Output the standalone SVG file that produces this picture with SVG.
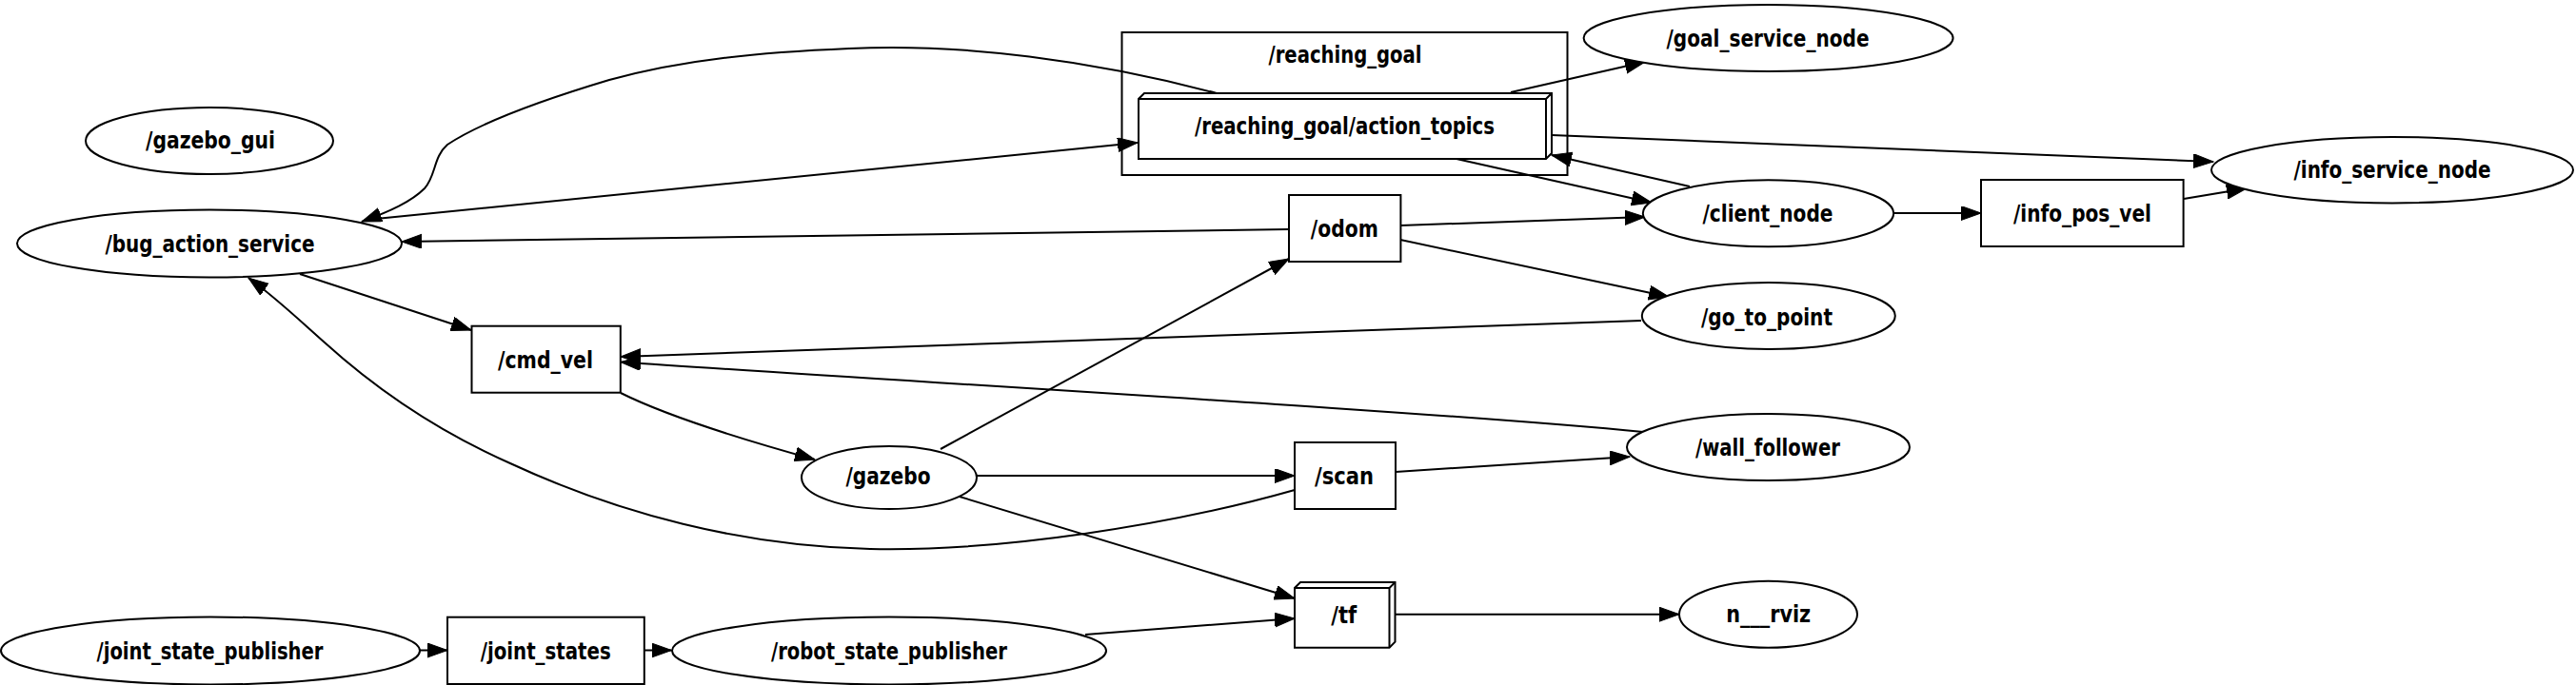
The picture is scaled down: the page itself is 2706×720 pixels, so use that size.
<svg xmlns="http://www.w3.org/2000/svg" width="2706" height="720" viewBox="0 0 2706 720">
<style>
.n{fill:#fff;stroke:#000;stroke-width:2}
.b{fill:none;stroke:#000;stroke-width:2}
.t{font-family:"DejaVu Sans","Liberation Sans",sans-serif;font-weight:bold;font-size:24px;text-anchor:middle;fill:#000}
.e{fill:none;stroke:#000;stroke-width:2;marker-end:url(#ah)}
</style>
<defs>
<marker id="ah" markerWidth="23" markerHeight="16" refX="21" refY="7.5" orient="auto" markerUnits="userSpaceOnUse">
<path d="M0,0 L21,7.5 L0,15 Z" fill="#000" stroke="#000" stroke-width="1"/>
</marker>
</defs>
<rect width="2706" height="720" fill="#fff"/>

<g id="cluster_reaching_goal">
<rect class="b" x="1178.5" y="34" width="468" height="150"/>
<text class="t" x="1413" y="66" textLength="161" lengthAdjust="spacingAndGlyphs">/reaching_goal</text>
</g>

<g id="connectors">
<path class="e" d="M1278,98 C1150,64 1010,45 892,51 C800,55 720,62 640,84 C560,108 500,132 470,152 C455,165 458,185 446,198 C432,212 410,222 380,233"/>
<path class="e" d="M395,230 L1195,150"/>
<path class="e" d="M1354,241 L422,254"/>
<path class="e" d="M315,288 L495,347"/>
<path class="e" d="M1360,515 C1230,552 1050,580 914,577 C780,574 650,540 536,487 C475,460 405,418 341,360 C315,337 290,313 261,292"/>
<path class="e" d="M652,413 C700,437 780,462 856,483"/>
<path class="e" d="M988,472 L1354,272"/>
<path class="e" d="M1026,500 L1360,500"/>
<path class="e" d="M1008,522 L1360,629"/>
<path class="e" d="M1140,667 L1360,650"/>
<path class="e" d="M441,683.5 L470,683.5"/>
<path class="e" d="M677,683.5 L705.5,683.5"/>
<path class="e" d="M1466,645.7 L1764,645.7"/>
<path class="e" d="M1466,496 L1712,480"/>
<path class="e" d="M1726,454 C1500,432 900,398 652,380.5"/>
<path class="e" d="M1724,337 L652,375"/>
<path class="e" d="M1471,237 L1728,228"/>
<path class="e" d="M1471,252 L1753,312"/>
<path class="e" d="M1530,167 L1735,213"/>
<path class="e" d="M1775,196 L1630,163"/>
<path class="e" d="M1587,97 L1728,65"/>
<path class="e" d="M1630,142 L2325,170"/>
<path class="e" d="M1989,224 L2081,224"/>
<path class="e" d="M2294,209 L2360,198"/>
</g>

<g id="gazebo_gui">
<ellipse class="n" cx="220" cy="148" rx="130" ry="35"/>
<text class="t" x="221" y="156" textLength="136" lengthAdjust="spacingAndGlyphs">/gazebo_gui</text>
</g>
<g id="bug_action_service">
<ellipse class="n" cx="220" cy="256" rx="202" ry="35.5"/>
<text class="t" x="220.5" y="265" textLength="220" lengthAdjust="spacingAndGlyphs">/bug_action_service</text>
</g>
<g id="cmd_vel">
<rect class="n" x="495.5" y="342.7" width="156.3" height="70"/>
<text class="t" x="573" y="386.5" textLength="100" lengthAdjust="spacingAndGlyphs">/cmd_vel</text>
</g>
<g id="joint_state_publisher">
<ellipse class="n" cx="221" cy="684" rx="220" ry="35.5"/>
<text class="t" x="220.5" y="692.5" textLength="238" lengthAdjust="spacingAndGlyphs">/joint_state_publisher</text>
</g>
<g id="joint_states">
<rect class="n" x="470" y="648.7" width="206.8" height="70.3"/>
<text class="t" x="573.2" y="692.5" textLength="137" lengthAdjust="spacingAndGlyphs">/joint_states</text>
</g>
<g id="robot_state_publisher">
<ellipse class="n" cx="934" cy="684" rx="228" ry="35.5"/>
<text class="t" x="934" y="692.5" textLength="248" lengthAdjust="spacingAndGlyphs">/robot_state_publisher</text>
</g>
<g id="gazebo">
<ellipse class="n" cx="934" cy="502" rx="92" ry="33"/>
<text class="t" x="933" y="509" textLength="89" lengthAdjust="spacingAndGlyphs">/gazebo</text>
</g>
<g id="scan">
<rect class="n" x="1360" y="465" width="106" height="70"/>
<text class="t" x="1412" y="508.5" textLength="62" lengthAdjust="spacingAndGlyphs">/scan</text>
</g>
<g id="tf">
<path class="n" d="M1360,680.7 L1360,618 L1366,612 L1465.5,612 L1465.5,674.7 L1459.5,680.7 Z"/>
<path class="b" d="M1459.5,680.7 L1459.5,618 L1360,618 M1459.5,618 L1465.5,612"/>
<text class="t" x="1411.7" y="655" textLength="27" lengthAdjust="spacingAndGlyphs">/tf</text>
</g>
<g id="odom">
<rect class="n" x="1354" y="205" width="117.4" height="70"/>
<text class="t" x="1412.3" y="249.3" textLength="71" lengthAdjust="spacingAndGlyphs">/odom</text>
</g>
<g id="reaching_goal_action_topics">
<path class="n" d="M1196,167 L1196,104 L1202,98 L1630,98 L1630,161 L1624,167 Z"/>
<path class="b" d="M1624,167 L1624,104 L1196,104 M1624,104 L1630,98"/>
<text class="t" x="1412.5" y="140.5" textLength="315" lengthAdjust="spacingAndGlyphs">/reaching_goal/action_topics</text>
</g>
<g id="goal_service_node">
<ellipse class="n" cx="1857.6" cy="40" rx="194" ry="35"/>
<text class="t" x="1857" y="49" textLength="213" lengthAdjust="spacingAndGlyphs">/goal_service_node</text>
</g>
<g id="client_node">
<ellipse class="n" cx="1857.5" cy="224.3" rx="131.7" ry="35"/>
<text class="t" x="1857" y="232.5" textLength="137" lengthAdjust="spacingAndGlyphs">/client_node</text>
</g>
<g id="go_to_point">
<ellipse class="n" cx="1857.8" cy="332" rx="133" ry="35"/>
<text class="t" x="1856" y="341.5" textLength="138" lengthAdjust="spacingAndGlyphs">/go_to_point</text>
</g>
<g id="wall_follower">
<ellipse class="n" cx="1857.5" cy="470" rx="148.5" ry="35"/>
<text class="t" x="1857" y="478.5" textLength="152" lengthAdjust="spacingAndGlyphs">/wall_follower</text>
</g>
<g id="n___rviz">
<ellipse class="n" cx="1857.5" cy="645.7" rx="93.5" ry="35"/>
<text class="t" x="1857.7" y="654.3" textLength="89" lengthAdjust="spacingAndGlyphs">n___rviz</text>
</g>
<g id="info_pos_vel">
<rect class="n" x="2081" y="189" width="212.6" height="70"/>
<text class="t" x="2187.5" y="232.7" textLength="145" lengthAdjust="spacingAndGlyphs">/info_pos_vel</text>
</g>
<g id="info_service_node">
<ellipse class="n" cx="2513" cy="178.7" rx="190" ry="34.7"/>
<text class="t" x="2513" y="186.7" textLength="207" lengthAdjust="spacingAndGlyphs">/info_service_node</text>
</g>
</svg>
